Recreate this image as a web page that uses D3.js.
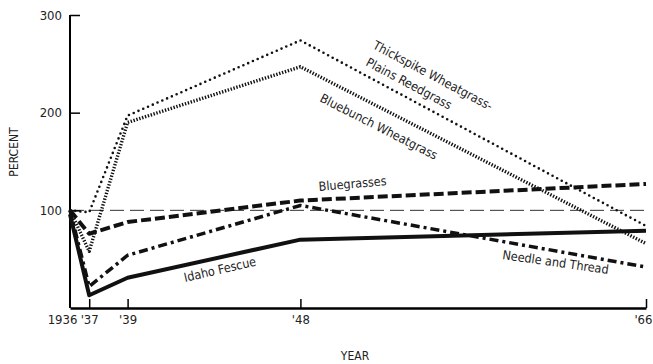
<!DOCTYPE html>
<html>
<head>
<meta charset="utf-8">
<script src="https://cdn.jsdelivr.net/npm/d3@7"></script>
<style>
  body { margin: 0; background: #fff; }
  text { fill: #222; }
</style>
</head>
<body>
<svg id="chart"></svg>
<script>
const width = 653, height = 364;

// data
const years = [1936, 1937, 1939, 1948, 1966];
const yearLabels = ["1936", "'37", "'39", "'48", "'66"];
const percentTicks = [100, 200, 300];

const thickspike = [100, 98, 197, 274, 84];
const bluebunch = [100, 58, 190, 247, 66];
const bluegrasses = [100, 76, 88, 110, 127];
const needleThread = [100, 22, 54, 105, 42];
const idahoFescue = [96, 13, 31, 70, 79];

const svg = d3.select("#chart")
  .attr("width", width)
  .attr("height", height);

const x = d3.scaleLinear().domain([1936, 1966]).range([70, 646]);
const y = d3.scaleLinear().domain([0, 300]).range([308, 15]);

const font = "'Liberation Sans Narrow', 'DejaVu Sans Condensed', sans-serif";
const labelFont = "'DejaVu Sans Condensed', 'Liberation Sans Narrow', sans-serif";

// reference line at 100
svg.append("line")
  .attr("x1", x(1936)).attr("x2", x(1966))
  .attr("y1", y(100)).attr("y2", y(100))
  .attr("stroke", "#333")
  .attr("stroke-width", 1)
  .attr("stroke-dasharray", "14,6");

// axes
const yAxis = svg.append("g")
  .attr("transform", `translate(${x(1936)},0)`)
  .call(d3.axisLeft(y).tickValues(percentTicks).tickSize(-10).tickPadding(8));
yAxis.select(".domain").attr("d", `M0,${y(300)}V${y(0)}`).attr("stroke-width", 2);
yAxis.selectAll(".tick line").attr("stroke-width", 1.5);
yAxis.selectAll("text").attr("font-family", font).attr("font-size", 13);

const xAxis = svg.append("g")
  .attr("transform", `translate(0,${y(0)})`)
  .call(d3.axisBottom(x).tickValues(years).tickFormat((d, i) => yearLabels[i])
    .tickSize(-9).tickPadding(7).tickSizeOuter(0));
xAxis.select(".domain").attr("stroke-width", 2.5);
xAxis.selectAll(".tick line").attr("stroke-width", 1.5)
  .filter(d => d === 1936).remove();
xAxis.selectAll("text").attr("font-family", font).attr("font-size", 13)
  .attr("dx", d => d === 1936 ? -8 : 0);
xAxis.selectAll("text").filter(d => d === 1966)
  .attr("text-anchor", "end").attr("dx", 6);

svg.append("text")
  .attr("transform", `translate(18,152) rotate(-90)`)
  .attr("text-anchor", "middle")
  .attr("font-family", font).attr("font-size", 12)
  .text("PERCENT");

svg.append("text")
  .attr("x", 355).attr("y", 360)
  .attr("text-anchor", "middle")
  .attr("font-family", font).attr("font-size", 12)
  .text("YEAR");

// series
const line = d3.line()
  .x((d, i) => x(years[i]))
  .y(d => y(d));

const series = [
  { values: thickspike, width: 2.6, dash: "0,5.2", cap: "round" },
  { values: bluebunch, width: 3.4, dash: "1.4,1.6", cap: "butt" },
  { values: bluegrasses, width: 4, dash: "10,4", cap: "butt" },
  { values: needleThread, width: 3.5, dash: "9,4,3,4", cap: "butt" },
  { values: idahoFescue, width: 4, dash: null, cap: "butt" }
];

svg.append("g").selectAll("path")
  .data(series)
  .join("path")
  .attr("d", d => line(d.values))
  .attr("fill", "none")
  .attr("stroke", "#111")
  .attr("stroke-width", d => d.width)
  .attr("stroke-dasharray", d => d.dash)
  .attr("stroke-linecap", d => d.cap)
  .attr("stroke-linejoin", "round");

// series labels
const labels = [
  { text: "Thickspike Wheatgrass-", x: 372, y: 48, angle: 28 },
  { text: "Plains Reedgrass", x: 365, y: 65, angle: 28 },
  { text: "Bluebunch Wheatgrass", x: 319, y: 101, angle: 27 },
  { text: "Bluegrasses", x: 319, y: 191, angle: -5 },
  { text: "Idaho Fescue", x: 185, y: 282, angle: -13 },
  { text: "Needle and Thread", x: 502, y: 259, angle: 8 }
];

svg.append("g").selectAll("text")
  .data(labels)
  .join("text")
  .attr("transform", d => `translate(${d.x},${d.y}) rotate(${d.angle})`)
  .attr("font-family", labelFont)
  .attr("font-size", 12.5)
  .text(d => d.text);
</script>
</body>
</html>
